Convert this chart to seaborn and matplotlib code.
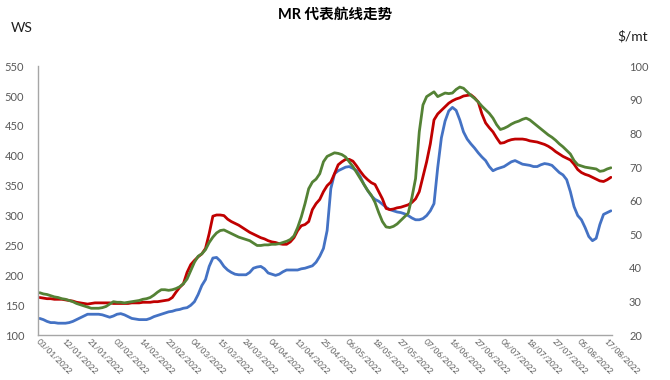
import matplotlib
matplotlib.use("Agg")
import matplotlib.pyplot as plt
import seaborn as sns
import pandas as pd
import numpy as np

tick_labels = ["03/01/2022", "12/01/2022", "21/01/2022", "03/02/2022", "14/02/2022",
               "23/02/2022", "04/03/2022", "15/03/2022", "24/03/2022", "04/04/2022",
               "13/04/2022", "25/04/2022", "06/05/2022", "18/05/2022", "27/05/2022",
               "07/06/2022", "16/06/2022", "27/06/2022", "06/07/2022", "18/07/2022",
               "27/07/2022", "05/08/2022", "17/08/2022"]

red = [163, 162, 161, 161, 160, 160, 160, 159, 158, 157, 155, 154, 153, 152, 153, 154,
       154, 154, 154, 154, 153, 153, 153, 153, 153, 154, 154, 154, 155, 155, 155, 156,
       156, 157, 158, 159, 163, 172, 180, 186, 205, 218, 225, 231, 236, 245, 270, 299,
       301, 301, 300, 294, 290, 287, 284, 280, 276, 272, 269, 266, 263, 261, 258, 256,
       255, 253, 252, 252, 256, 263, 275, 283, 285, 290, 310, 320, 327, 340, 350, 356,
       370, 385, 390, 394, 394, 391, 383, 374, 366, 360, 355, 352, 340, 328, 312, 310,
       311, 313, 314, 316, 318, 322, 328, 340, 365, 390, 420, 460, 470, 476, 482, 488,
       492, 495, 497, 500, 501, 502, 497, 490, 470, 455, 447, 440, 430, 421, 422, 425,
       427, 428, 428, 428, 427, 425, 424, 423, 421, 419, 416, 412, 407, 403, 399, 396,
       393, 386, 377, 372, 369, 367, 364, 361, 358, 357, 360, 364]

green = [171, 169, 168, 166, 164, 163, 161, 160, 158, 156, 153, 151, 149, 147, 145, 145,
         145, 146, 148, 152, 156, 155, 155, 154, 155, 156, 157, 158, 160, 161, 163, 167,
         172, 176, 176, 175, 176, 178, 181, 186, 194, 208, 222, 232, 236, 243, 255, 264,
         271, 275, 276, 273, 270, 267, 264, 262, 260, 258, 254, 250, 250, 251, 251, 252,
         252, 253, 255, 257, 260, 266, 280, 298, 320, 345, 356, 361, 370, 390, 399, 402,
         405, 404, 402, 398, 390, 382, 372, 362, 352, 342, 334, 322, 305, 290, 281, 280,
         282, 286, 292, 298, 304, 330, 362, 440, 485, 499, 503, 507, 499, 502, 505, 504,
         505, 511, 515, 513, 507, 501, 496, 490, 483, 477, 471, 463, 452, 444, 446, 449,
         453, 456, 458, 461, 463, 460, 455, 450, 445, 440, 435, 431, 426, 420, 415, 409,
         403, 392, 385, 383, 381, 380, 379, 378, 374, 375, 378, 380]

blue = [128, 126, 123, 121, 121, 120, 120, 120, 121, 123, 126, 129, 132, 135, 135, 135,
        135, 134, 132, 130, 132, 135, 136, 134, 131, 128, 127, 126, 126, 126, 128, 131,
        133, 135, 137, 139, 140, 142, 143, 145, 146, 150, 156, 168, 183, 193, 215, 229,
        230, 224, 215, 209, 205, 202, 201, 201, 201, 205, 212, 214, 215, 211, 204, 202,
        200, 202, 206, 209, 209, 209, 209, 211, 212, 214, 216, 222, 232, 245, 275, 345,
        370, 375, 378, 381, 382, 379, 375, 365, 352, 342, 333, 327, 324, 319, 314, 310,
        308, 306, 305, 303, 300, 296, 293, 293, 295, 300, 308, 320, 380, 430, 458, 475,
        481, 476, 460, 440, 428, 420, 413, 405, 398, 392, 382, 375, 378, 380, 382, 386,
        390, 392, 389, 386, 385, 384, 382, 382, 385, 387, 386, 384, 378, 372, 368, 360,
        340, 315, 300, 293, 280, 265, 258, 262, 285, 302, 305, 308]

series_names = ["A", "B", "C"]
series_colors = ["#C00000", "#548235", "#4472C4"]

sns.set_style("white")
plt.rcParams['font.family'] = ['Lato', 'Noto Sans CJK SC', 'DejaVu Sans']

n = len(red)
df = pd.DataFrame({
    "idx": list(range(n)) * 3,
    "ws": red + green + blue,
    "route": [series_names[0]] * n + [series_names[1]] * n + [series_names[2]] * n,
})

fig = plt.figure(figsize=(6.7, 3.8), dpi=100)
ax = fig.add_axes([0.057, 0.118, 0.857, 0.708])
order = [series_names[2], series_names[0], series_names[1]]
pal = dict(zip(series_names, series_colors))
for name in order:
    sns.lineplot(data=df[df["route"] == name], x="idx", y="ws", color=pal[name],
                 linewidth=2.0, ax=ax, legend=False)

ax.set_xlim(-0.4, n - 0.6)
ax.set_ylim(100, 550)
ax.set_yticks(range(100, 551, 50))
ax.set_xticks(range(0, n, 7))
ax.set_xticklabels(tick_labels, rotation=-45, ha="left", rotation_mode="anchor",
                   fontsize=6, color="#595959")
ax.tick_params(axis="x", length=0, pad=2)
ax.tick_params(axis="y", length=0, labelsize=8, labelcolor="#595959", pad=10)
ax.set_xlabel("")
ax.set_ylabel("")
for s in ["top", "right"]:
    ax.spines[s].set_visible(False)
for s in ["left", "bottom"]:
    ax.spines[s].set_color("#A6A6A6")
    ax.spines[s].set_linewidth(1.0)

ax2 = ax.twinx()
ax2.set_ylim(20, 100)
ax2.set_yticks(range(20, 101, 10))
ax2.tick_params(axis="y", length=0, labelsize=8, labelcolor="#595959", pad=12)
for s in ["top", "right", "left", "bottom"]:
    ax2.spines[s].set_visible(False)

fig.text(0.5, 0.962, "MR 代表航线走势", ha="center", va="center", fontsize=10.5,
         fontweight="bold", color="#000000")
fig.text(0.033, 0.925, "WS", ha="center", va="center", fontsize=10, color="#1F1F1F")
fig.text(0.944, 0.905, "$/mt", ha="center", va="center", fontsize=10, color="#1F1F1F")

fig.savefig("out.png", dpi=100)
